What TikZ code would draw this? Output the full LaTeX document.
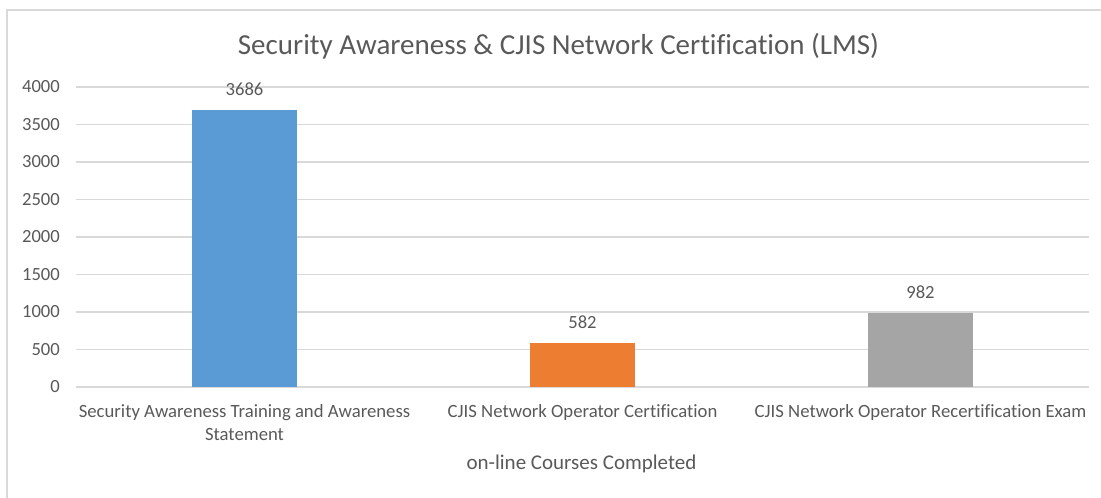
\documentclass[tikz,border=0pt]{standalone}
\usepackage{fontspec}
\setmainfont{Carlito}[Ligatures={NoCommon}]
\usetikzlibrary{positioning}
\definecolor{lms_blue}{RGB}{91, 155, 213}
\definecolor{lms_orange}{RGB}{237, 125, 49}
\definecolor{lms_grey}{RGB}{165, 165, 165}
\definecolor{lms_line}{RGB}{217, 217, 217}
\definecolor{lms_text}{RGB}{89, 89, 89}
\tikzstyle{gridline}=[draw=lms_line,line width=1.3pt]
\tikzstyle{frame}=[draw=lms_line,line width=1.5pt]
\tikzstyle{ticklabel}=[anchor=east,inner sep=0pt,text=lms_text,
  font=\fontsize{18.6}{22}\selectfont]
\tikzstyle{vallabel}=[inner sep=0pt,text=lms_text,
  font=\fontsize{18.6}{22}\selectfont]
\tikzstyle{catlabel}=[anchor=north,inner sep=0pt,align=center,text=lms_text,
  font=\fontsize{18.7}{23}\selectfont]
\tikzstyle{barbox}=[anchor=south,inner sep=0pt,draw=none,minimum width=105.5pt]

\begin{document}
\begin{tikzpicture}[x=1pt, y=-1pt]
    \useasboundingbox (0,0) rectangle (1101,498);
    \draw[frame] (7,498) -- (7,10) -- (1101,10);
    \node [anchor=base,inner sep=0pt,text=lms_text,font=\fontsize{29}{34}\selectfont] (title) at (558.5,54.5)
      {Security Awareness \& CJIS Network Certification (LMS)};
    \foreach \v/\y in {0/387,500/349.5,1000/312,1500/274.5,2000/237,2500/199.5,3000/162,3500/124.5,4000/87} {
      \draw[gridline] (76,\y) -- (1089,\y);
      \node [style=ticklabel] (t\v) at (60,\y) {\v};
    }
    \node [style=barbox,fill=lms_blue,minimum height=276.45pt] (b1) at (244.5,387) {};
    \node [style=barbox,fill=lms_orange,minimum height=43.65pt] (b2) at (582.5,387) {};
    \node [style=barbox,fill=lms_grey,minimum height=73.65pt] (b3) at (920.5,387) {};
    \node [style=vallabel,above=14.5pt of b1] (v1) {3686};
    \node [style=vallabel,above=14.5pt of b2] (v2) {582};
    \node [style=vallabel,above=14.5pt of b3] (v3) {982};
    \node [style=catlabel] (c1) at (244.5,404) {Security Awareness Training and Awareness\\Statement};
    \node [style=catlabel] (c2) at (582.5,404) {CJIS Network Operator Certification};
    \node [style=catlabel] (c3) at (920.5,404) {CJIS Network Operator Recertification Exam};
    \node [anchor=base,inner sep=0pt,text=lms_text,font=\fontsize{21}{25}\selectfont] (axis) at (581.5,469)
      {on-line Courses Completed};
\end{tikzpicture}
\end{document}
